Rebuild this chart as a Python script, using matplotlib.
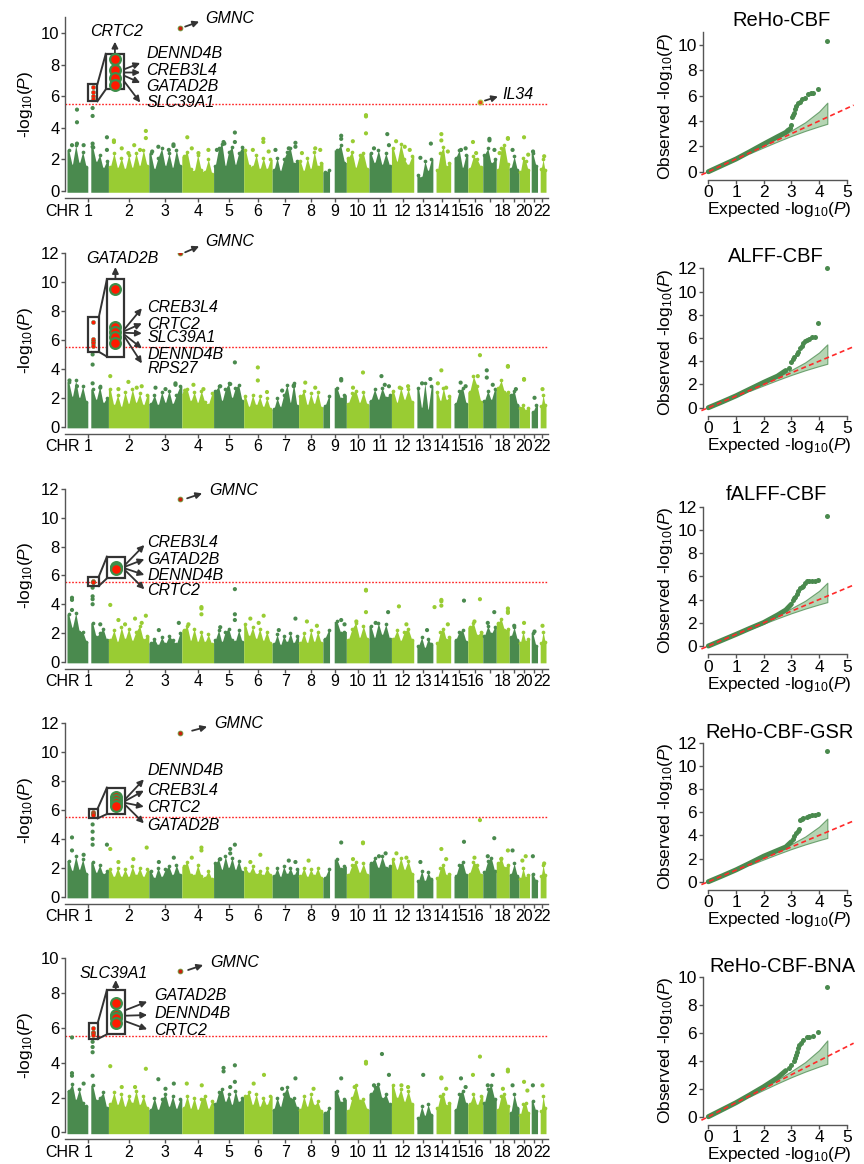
import numpy as np
import matplotlib
matplotlib.use("Agg")
import matplotlib.pyplot as plt
from matplotlib.transforms import offset_copy
from matplotlib.patches import Rectangle

plt.rcParams['font.family'] = ['Liberation Sans', 'DejaVu Sans']
plt.rcParams['mathtext.fontset'] = 'custom'
plt.rcParams['mathtext.rm'] = 'Liberation Sans'
plt.rcParams['mathtext.it'] = 'Liberation Sans:italic'
plt.rcParams['mathtext.bf'] = 'Liberation Sans:bold'

# ---------------------------------------------------------------- data
CHROM_LEN_MB = [249, 243, 198, 191, 181, 171, 159, 146, 141, 136, 135, 134,
                115, 107, 103, 90, 81, 78, 59, 63, 48, 51]
CHR_TICK_LABELS = ['1', '2', '3', '4', '5', '6', '7', '8', '9', '10', '11', '12',
                   '13', '14', '15', '16', '', '18', '', '20', '', '22']
# regions of each chromosome that carry SNPs (Mb)
CHROM_SEGMENTS = {1: [(0, 125), (143, 249)], 9: [(0, 40), (68, 141)],
                  13: [(19, 115)], 14: [(19, 107)], 15: [(20, 103)],
                  21: [(10, 48)], 22: [(16, 51)]}
PANEL_NAMES = ['ReHo-CBF', 'ALFF-CBF', 'fALFF-CBF', 'ReHo-CBF-GSR', 'ReHo-CBF-BNA']
THRESHOLD = 5.52

# jagged upper edge of the dense SNP cloud, per chromosome, left to right
BODY_1 = [[2.6, 1.6, 2.9, 1.7, 2.5, 1.5, 2.8, 1.8, 2.3, 1.4, 1.9],
          [1.5, 2.4, 1.4, 2.1, 1.3, 2.3, 1.4, 2.4, 1.5, 2.6, 1.6],
          [2.4, 1.3, 2.1, 2.7, 1.5, 2.4, 1.4, 2.6, 1.6],
          [2.2, 2.5, 1.4, 1.2, 2.3, 1.3, 1.2, 2.0, 1.1],
          [1.6, 2.7, 3.0, 1.5, 2.5, 2.8, 1.6, 2.4, 2.8],
          [2.6, 1.6, 1.5, 2.3, 1.3, 2.1, 1.3, 2.0],
          [1.3, 2.1, 1.2, 2.0, 2.5, 2.7, 1.7, 1.9],
          [1.9, 1.2, 2.1, 1.3, 2.5, 1.5, 1.8],
          [1.2, 1.3, 2.6, 2.9, 1.8],
          [2.1, 2.5, 1.4, 2.3, 2.4, 1.4],
          [2.4, 1.7, 2.6, 1.6, 2.4, 1.6],
          [2.7, 1.8, 3.0, 2.0, 1.6, 2.2],
          [1.0, 0.8, 1.9, 1.2, 2.0],
          [1.3, 2.4, 2.8, 1.5, 1.8],
          [2.1, 2.6, 1.4, 2.3],
          [1.4, 2.2, 2.0, 1.5],
          [2.3, 2.7, 1.7, 2.0],
          [1.3, 2.7, 2.9, 1.7],
          [1.4, 2.2, 1.3],
          [1.2, 2.1, 1.9, 1.3],
          [2.4, 1.6],
          [1.4, 2.0, 1.3]]
BODY_2 = [[3.1, 2.0, 3.2, 1.9, 2.8, 1.7, 2.6, 1.8, 2.8, 1.6, 2.0],
          [2.6, 1.4, 2.2, 1.3, 2.4, 1.5, 2.6, 1.6, 2.3, 1.4, 2.2],
          [1.6, 2.2, 1.4, 2.4, 1.6, 2.5, 1.5, 2.2, 2.8],
          [2.3, 2.6, 1.7, 2.4, 1.6, 2.5, 1.7, 1.5, 2.3],
          [2.5, 2.8, 1.7, 2.6, 3.0, 1.9, 2.7, 2.9, 1.8],
          [2.1, 1.3, 2.2, 1.4, 2.1, 1.3, 2.0, 1.2],
          [1.2, 2.0, 1.3, 2.2, 2.9, 1.6, 3.0, 1.4],
          [2.1, 2.5, 1.4, 2.3, 1.5, 2.4, 1.3],
          [1.4, 2.1, 2.7, 1.9, 2.2],
          [1.6, 2.3, 2.5, 1.6, 2.4, 1.5],
          [1.8, 2.6, 1.8, 2.7, 2.0, 2.2],
          [2.5, 1.6, 2.7, 1.8, 2.6, 1.7],
          [2.7, 1.2, 3.0, 1.1, 2.8],
          [2.4, 1.7, 2.7, 1.8, 2.1],
          [1.6, 2.5, 2.7, 1.6],
          [2.4, 3.5, 2.8, 1.7],
          [1.8, 2.5, 1.8, 2.6],
          [2.7, 3.2, 2.4, 2.4],
          [2.2, 2.5, 1.5],
          [1.3, 1.5, 1.1, 1.3],
          [1.0, 1.5],
          [1.4, 2.2, 1.5]]
BODY_3 = [[3.3, 2.3, 3.4, 2.1, 2.1, 1.4, 2.7, 1.7, 2.0, 2.3, 1.5],
          [1.5, 2.2, 1.3, 2.4, 1.5, 2.3, 1.4, 2.1, 2.5, 1.5, 1.8],
          [1.3, 1.6, 1.1, 1.7, 1.2, 1.8, 1.5, 1.2, 2.0],
          [2.2, 2.5, 1.4, 2.3, 1.3, 2.1, 1.3, 1.9, 1.2],
          [1.5, 2.2, 1.3, 2.1, 2.3, 1.5, 1.4, 2.2, 1.4],
          [2.6, 1.7, 2.4, 1.5, 2.3, 1.4, 2.1, 1.3],
          [1.2, 1.9, 1.1, 1.8, 1.3, 2.0, 1.2, 1.8],
          [1.3, 2.0, 1.2, 2.2, 1.3, 2.1, 1.3],
          [1.6, 2.2, 2.8, 2.0, 2.1],
          [1.5, 2.3, 2.7, 1.6, 2.5, 1.6],
          [2.5, 1.6, 2.7, 1.8, 2.6, 1.6],
          [1.6, 2.2, 1.4, 2.1, 2.3, 1.5],
          [1.1, 1.7, 0.9, 1.6, 1.2],
          [1.3, 2.1, 2.3, 1.5, 1.7],
          [1.5, 2.1, 2.2, 1.4],
          [2.4, 2.7, 1.8, 2.1],
          [1.8, 2.5, 1.9, 2.4],
          [2.7, 3.0, 2.2, 2.3],
          [1.7, 2.4, 1.5],
          [1.3, 2.1, 1.4, 1.6],
          [2.0, 1.1],
          [1.3, 2.1, 1.4]]
BODY_4 = [[2.5, 1.7, 2.8, 1.8, 2.6, 1.6, 2.4, 1.6, 2.2, 1.5, 1.8],
          [1.9, 1.3, 2.0, 1.3, 1.9, 1.3, 2.1, 1.4, 2.0, 1.3, 1.9],
          [1.8, 1.2, 2.0, 1.3, 1.9, 2.1, 1.4, 2.2, 1.5],
          [2.1, 2.4, 1.5, 1.4, 2.2, 1.4, 1.3, 1.8, 1.2],
          [2.3, 2.6, 1.8, 2.8, 1.9, 2.7, 1.8, 2.5, 1.7],
          [2.0, 1.6, 2.1, 1.5, 1.8, 1.4, 2.0, 1.5],
          [1.4, 2.0, 1.3, 2.1, 1.5, 2.0, 1.4, 1.9],
          [1.4, 2.0, 1.3, 1.9, 1.4, 2.0, 1.3],
          [1.3, 1.9, 2.6, 1.9, 2.1],
          [1.5, 2.2, 2.4, 1.6, 2.3, 1.5],
          [2.3, 2.7, 1.9, 2.8, 2.0, 2.1],
          [2.6, 1.8, 2.7, 1.8, 2.5, 1.6],
          [1.1, 1.8, 1.0, 1.7, 1.2],
          [1.3, 2.0, 2.2, 1.4, 1.6],
          [1.4, 2.2, 2.4, 1.5],
          [1.6, 2.4, 2.2, 1.5],
          [1.7, 2.5, 2.7, 1.8],
          [2.3, 2.7, 2.0, 2.2],
          [1.5, 2.3, 1.4],
          [1.2, 2.0, 1.3, 1.5],
          [1.6, 1.1],
          [1.4, 2.2, 1.5]]
BODY_5 = [[2.4, 2.8, 1.8, 2.5, 1.7, 1.5, 2.7, 1.8, 2.0, 2.3, 1.4],
          [1.6, 2.3, 1.5, 2.2, 1.4, 2.1, 1.6, 2.4, 1.5, 2.1, 1.4],
          [1.3, 2.0, 1.2, 1.9, 2.2, 1.4, 2.1, 1.3, 1.9],
          [1.4, 2.1, 1.3, 2.0, 1.2, 1.9, 2.1, 1.3, 1.8],
          [1.6, 2.3, 2.5, 1.7, 2.2, 1.5, 2.4, 1.7, 2.0],
          [2.1, 2.3, 1.5, 2.2, 1.4, 2.0, 1.5, 2.1],
          [1.3, 2.0, 1.4, 2.2, 2.6, 1.9, 2.0, 1.4],
          [1.3, 2.1, 1.4, 2.2, 1.5, 1.8, 1.2],
          [1.1, 1.4, 2.4, 1.7, 1.9],
          [1.2, 2.0, 2.7, 1.8, 1.9, 1.3],
          [2.2, 2.6, 2.8, 1.9, 2.2, 1.6],
          [2.7, 1.9, 2.5, 1.7, 2.4, 1.6],
          [0.8, 1.5, 0.9, 1.6, 1.0],
          [1.4, 2.1, 2.2, 1.5, 1.7],
          [1.3, 2.2, 2.4, 1.6],
          [1.6, 2.2, 1.5, 2.1],
          [1.7, 2.5, 2.7, 1.9],
          [1.3, 2.1, 2.2, 1.5],
          [1.1, 2.2, 1.4],
          [1.0, 1.6, 1.7, 1.1],
          [1.8, 1.2],
          [1.2, 2.1, 1.4]]

# sparse SNPs above the cloud: (chromosome, position Mb, -log10 P)
SPARSE_1 = [(1, 60, 5.15), (1, 60, 4.35), (1, 60, 3.0), (1, 30, 2.9), (1, 154, 5.25), (1, 154, 4.75),
            (1, 154, 3.0), (1, 154, 2.8), (1, 240, 3.4), (1, 240, 2.6), (2, 33, 3.2), (2, 33, 3.1),
            (2, 155, 2.9), (2, 225, 3.8), (2, 225, 3.35), (2, 120, 2.4), (3, 57, 2.8), (3, 148, 2.95),
            (3, 148, 2.85), (4, 33, 3.4), (4, 160, 2.6), (5, 60, 3.1), (5, 65, 3.0), (5, 128, 3.7),
            (5, 128, 3.1), (6, 55, 2.6), (6, 118, 3.3), (6, 118, 3.1), (7, 140, 3.05), (7, 140, 2.8),
            (8, 100, 2.7), (9, 110, 3.5), (9, 110, 3.3), (10, 39, 3.15), (10, 118, 4.8), (10, 118, 4.72),
            (10, 118, 3.65), (11, 110, 3.6), (11, 120, 2.9), (12, 28, 3.15), (12, 80, 2.8), (13, 103, 3.0),
            (14, 51, 3.6), (14, 51, 3.2), (15, 62, 2.6), (16, 31, 3.1), (17, 40, 3.3), (17, 40, 3.2),
            (18, 70, 3.35), (18, 70, 3.3), (19, 20, 2.6), (20, 30, 3.4), (21, 21, 2.5),
            (1, 100, 2.9), (2, 80, 2.7), (2, 190, 2.6), (3, 20, 2.5), (3, 120, 2.6), (4, 60, 2.7),
            (4, 100, 2.4), (5, 20, 2.6), (6, 150, 2.5), (7, 20, 2.6), (7, 100, 2.7), (8, 20, 2.4),
            (8, 130, 2.6), (10, 10, 2.6), (11, 30, 2.7), (12, 110, 2.6), (13, 40, 2.1), (14, 90, 2.5),
            (15, 90, 2.7), (16, 50, 2.4), (17, 70, 2.6), (18, 20, 2.4), (20, 55, 2.3), (22, 40, 2.2)]
SPARSE_2 = [(1, 15, 3.2), (1, 60, 2.8), (1, 154, 5.0), (1, 154, 4.3), (1, 154, 3.0), (2, 11, 3.5),
            (2, 120, 3.1), (2, 200, 2.8), (3, 40, 2.7), (3, 160, 3.0), (3, 160, 2.9), (4, 70, 2.9),
            (5, 128, 4.45), (5, 100, 2.95), (6, 85, 4.1), (6, 85, 3.2), (7, 130, 2.85), (7, 130, 2.8),
            (8, 40, 3.05), (9, 110, 3.3), (9, 110, 3.2), (10, 100, 3.75), (11, 75, 3.5), (11, 95, 2.9),
            (12, 100, 2.8), (13, 100, 3.3), (14, 51, 3.9), (14, 30, 3.0), (15, 60, 3.05), (16, 73, 4.95),
            (16, 60, 3.5), (17, 24, 3.9), (17, 24, 3.4), (18, 70, 4.2), (18, 70, 4.15), (20, 30, 3.3),
            (20, 30, 3.25), (22, 30, 2.6),
            (1, 200, 2.7), (2, 60, 2.6), (2, 170, 2.7), (3, 100, 2.6), (4, 130, 2.6), (4, 20, 2.5),
            (5, 40, 2.8), (6, 140, 2.4), (7, 60, 2.5), (8, 100, 2.7), (10, 40, 2.7), (11, 120, 2.8),
            (12, 50, 2.7), (13, 50, 3.0), (14, 80, 2.7), (15, 90, 2.8), (17, 60, 2.9), (19, 40, 2.6),
            (21, 30, 2.0)]
SPARSE_3 = [(1, 30, 4.45), (1, 30, 4.3), (1, 30, 3.6), (1, 154, 5.15), (1, 154, 4.55), (1, 154, 4.35),
            (1, 154, 4.0), (2, 11, 3.95), (2, 60, 2.9), (2, 160, 3.0), (2, 225, 3.2), (3, 180, 2.7),
            (4, 118, 3.8), (4, 118, 3.7), (4, 118, 3.3), (5, 128, 5.05), (5, 128, 3.3), (5, 128, 2.9),
            (6, 40, 3.0), (6, 120, 3.2), (7, 140, 3.0), (8, 50, 2.8), (9, 110, 2.9), (10, 118, 5.0),
            (10, 118, 4.95), (10, 118, 3.45), (11, 115, 3.45), (12, 45, 3.85), (14, 10, 3.8),
            (14, 51, 4.3), (14, 51, 4.2), (14, 51, 3.9), (15, 80, 4.25), (16, 73, 4.35), (17, 69, 3.45),
            (18, 70, 3.7), (18, 70, 3.5), (18, 70, 3.4), (20, 30, 2.7), (22, 30, 2.5),
            (1, 200, 2.6), (2, 100, 2.6), (2, 200, 2.7), (3, 60, 2.2), (4, 40, 2.6), (5, 40, 2.4),
            (6, 90, 2.7), (7, 40, 2.2), (8, 110, 2.5), (9, 130, 2.6), (10, 60, 2.8), (11, 40, 2.7),
            (12, 90, 2.6), (13, 80, 2.2), (14, 90, 2.6), (16, 40, 2.8), (17, 30, 2.7), (19, 30, 2.5),
            (21, 30, 2.1)]
SPARSE_4 = [(1, 30, 4.1), (1, 30, 3.2), (1, 154, 5.0), (1, 154, 4.5), (1, 154, 4.0), (1, 154, 3.6),
            (1, 240, 3.6), (2, 11, 3.3), (2, 230, 3.4), (3, 150, 2.7), (4, 118, 3.4), (4, 118, 3.2),
            (5, 100, 3.3), (5, 100, 3.0), (5, 128, 3.6), (6, 100, 2.9), (9, 110, 3.75), (10, 100, 3.75),
            (10, 100, 3.7), (11, 100, 3.0), (12, 30, 3.0), (14, 51, 3.3), (15, 80, 3.8), (16, 73, 5.3),
            (17, 69, 4.05), (18, 70, 3.2), (19, 20, 3.2), (20, 40, 2.8), (21, 20, 2.8),
            (1, 100, 2.9), (2, 60, 2.4), (2, 150, 2.6), (3, 60, 2.4), (4, 60, 2.7), (5, 40, 2.6),
            (6, 40, 2.4), (7, 100, 2.5), (7, 140, 2.4), (8, 60, 2.5), (10, 40, 2.6), (11, 60, 2.8),
            (12, 90, 2.7), (13, 40, 2.4), (14, 80, 2.6), (16, 40, 2.7), (17, 30, 2.8), (18, 30, 2.6),
            (20, 20, 2.5), (22, 40, 2.3)]
SPARSE_5 = [(1, 30, 5.45), (1, 30, 3.4), (1, 30, 3.25), (1, 154, 5.2), (1, 154, 4.9), (1, 154, 4.6),
            (1, 154, 3.25), (2, 11, 3.8), (2, 225, 3.65), (3, 57, 3.05), (3, 150, 2.8), (4, 30, 2.8),
            (5, 60, 3.7), (5, 60, 3.5), (5, 128, 3.85), (5, 128, 2.9), (6, 122, 3.3), (7, 140, 3.1),
            (9, 110, 3.1), (10, 118, 4.05), (10, 118, 3.95), (11, 78, 4.5), (11, 120, 3.3), (12, 60, 2.7),
            (13, 57, 3.3), (14, 51, 3.15), (14, 51, 3.1), (15, 62, 3.1), (16, 31, 3.3), (16, 73, 4.35),
            (17, 60, 3.3), (18, 70, 3.6), (18, 70, 3.5), (19, 20, 2.7), (20, 30, 2.9), (21, 20, 2.7),
            (22, 30, 2.7),
            (1, 100, 2.8), (2, 80, 2.6), (2, 160, 2.6), (3, 100, 2.5), (4, 120, 2.7), (5, 100, 2.6),
            (6, 60, 2.8), (7, 60, 2.5), (8, 90, 2.5), (10, 50, 2.6), (11, 30, 2.7), (12, 100, 2.6),
            (14, 80, 2.5), (15, 90, 2.6), (17, 30, 2.7), (18, 40, 2.5), (20, 50, 2.4)]

# genome-wide significant SNPs at 1q21.3 (chr1 ~154 Mb)
LEAD_CHR, LEAD_MB = 1, 154
LEAD_1 = [6.6, 6.28, 6.02, 5.8]
LEAD_2 = [7.27, 6.1, 5.95, 5.8, 5.6]
LEAD_3 = [5.62, 5.58, 5.55]
LEAD_4 = [5.85, 5.77, 5.7, 5.62]
LEAD_5 = [6.0, 5.75, 5.7, 5.6]
# GMNC lead SNP on chr3
GMNC_CHR, GMNC_MB = 3, 188
GMNC_P = [10.34, 12.0, 11.3, 11.35, 9.27]
# IL34 (panel 1 only)
IL34_CHR, IL34_MB, IL34_P = 16, 73, 5.66

# QQ plots: dense part and tail (expected, observed)
QQ_EXP_MAIN = [[0, 0.5, 1.0, 1.5, 2.0, 2.5, 2.8, 2.9],
               [0, 0.5, 1.0, 1.5, 2.0, 2.5, 2.8],
               [0, 0.5, 1.0, 1.5, 2.0, 2.5, 2.8, 3.0],
               [0, 0.5, 1.0, 1.5, 2.0, 2.5, 2.8, 3.0],
               [0, 0.5, 1.0, 1.5, 2.0, 2.5, 2.8]]
QQ_OBS_MAIN = [[0, 0.5, 1.0, 1.58, 2.18, 2.76, 3.1, 3.3],
               [0, 0.5, 1.02, 1.6, 2.18, 2.72, 3.2],
               [0, 0.5, 1.0, 1.52, 2.02, 2.67, 3.1, 3.6],
               [0, 0.5, 1.02, 1.6, 2.2, 2.7, 3.0, 3.45],
               [0, 0.5, 1.0, 1.56, 2.14, 2.78, 3.29]]
QQ_EXP_TAIL = [[2.95, 3.0, 3.03, 3.05, 3.08, 3.12, 3.18, 3.25, 3.3, 3.4, 3.5, 3.6, 3.7, 3.8, 3.95, 4.28],
               [2.9, 3.0, 3.05, 3.1, 3.2, 3.25, 3.3, 3.38, 3.43, 3.5, 3.55, 3.65, 3.73, 3.86, 3.98, 4.3],
               [3.05, 3.1, 3.13, 3.2, 3.25, 3.3, 3.37, 3.43, 3.5, 3.55, 3.65, 3.73, 3.85, 3.98, 4.3],
               [3.05, 3.1, 3.17, 3.25, 3.29, 3.3, 3.37, 3.43, 3.55, 3.65, 3.73, 3.85, 3.98, 4.3],
               [2.9, 3.0, 3.08, 3.13, 3.16, 3.19, 3.25, 3.29, 3.35, 3.43, 3.55, 3.65, 3.8, 3.98, 4.3]]
QQ_OBS_TAIL = [[3.45, 3.7, 4.3, 4.5, 4.65, 4.95, 5.15, 5.4, 5.5, 5.7, 5.85, 6.1, 6.2, 6.2, 6.55, 10.35],
               [3.45, 3.97, 4.15, 4.4, 4.65, 4.83, 5.1, 5.35, 5.55, 5.7, 5.83, 5.95, 6.06, 6.1, 7.27, 12.0],
               [3.95, 4.15, 4.25, 4.5, 4.75, 4.97, 5.1, 5.17, 5.4, 5.63, 5.63, 5.63, 5.63, 5.65, 11.2],
               [3.7, 3.94, 4.17, 4.4, 4.52, 5.3, 5.4, 5.47, 5.6, 5.7, 5.75, 5.8, 5.84, 11.3],
               [3.45, 3.69, 4.0, 4.17, 4.4, 4.64, 4.9, 5.12, 5.3, 5.48, 5.67, 5.72, 5.76, 6.07, 9.28]]
BAND_EXP = [1.5, 2.0, 2.5, 3.0, 3.5, 4.0, 4.3]
BAND_LO = [1.45, 1.92, 2.38, 2.82, 3.22, 3.58, 3.78]
BAND_HI = [1.55, 2.1, 2.65, 3.25, 3.9, 4.75, 5.45]

BODIES = [BODY_1, BODY_2, BODY_3, BODY_4, BODY_5]
SPARSE = [SPARSE_1, SPARSE_2, SPARSE_3, SPARSE_4, SPARSE_5]
LEADS = [LEAD_1, LEAD_2, LEAD_3, LEAD_4, LEAD_5]

# ---------------------------------------------------------------- style / layout
W, H = 864, 1164
DARK = '#4A8A4E'
LIGHT = '#99CC33'
RED = '#FF1A00'
GREY = '#333333'
QQ_GREEN = '#4A8A4E'
GENE_FS = 11.5

# (y=0 px, px per unit, top value, x-axis line px, max tick)
MAN_LAYOUT = [(191.0, 15.8, 11, 198.0, 10),
              (426.7, 14.45, 12, 433.5, 12),
              (661.7, 14.37, 12, 668.5, 12),
              (896.7, 14.45, 12, 903.5, 12),
              (1132.3, 17.4, 10, 1139.0, 10)]
QQ_LAYOUT = [(171.7, 12.67, 11, 179.7, 10),
             (407.7, 11.62, 12, 415.7, 12),
             (646.0, 11.61, 12, 654.0, 12),
             (881.7, 11.58, 12, 889.7, 12),
             (1116.7, 14.0, 10, 1124.7, 10)]
QQ_TITLE_PX = [(781, 20), (776, 257), (776, 495), (780, 733), (782, 967)]

ANNOT = [
    dict(sbox=(126, 183, 5.68, 6.77), bbox=(233, 343, 6.43, 8.68), up=('CRTC2', 300, 10.1, 9.45),
         head_x=440, label_x=478,
         right=[('DENND4B', 8.72, 8.1, 7.7), ('CREB3L4', 7.64, 7.5, 7.5),
                ('GATAD2B', 6.6, 6.85, 7.3), ('SLC39A1', 5.6, 5.6, 6.95)],
         gm_label=(25, 9), gm_tail=(5, 1), gm_head=(19, 6)),
    dict(sbox=(126, 191, 5.19, 7.57), bbox=(240, 342, 4.85, 10.2), up=('GATAD2B', 331, 11.66, 11.05),
         head_x=450, label_x=482,
         right=[('CREB3L4', 8.26, 8.2, 6.7), ('CRTC2', 7.1, 7.15, 6.6), ('SLC39A1', 6.18, 6.46, 6.5),
                ('DENND4B', 5.03, 5.42, 6.4), ('RPS27', 4.0, 4.38, 6.3)],
         gm_label=(25, 11.5), gm_tail=(5, 1), gm_head=(19, 7)),
    dict(sbox=(126, 191, 5.27, 5.92), bbox=(240, 346, 5.8, 7.31), up=None,
         head_x=465, label_x=482,
         right=[('CREB3L4', 8.29, 8.12, 6.7), ('GATAD2B', 7.13, 7.13, 6.6),
                ('DENND4B', 5.99, 6.04, 6.5), ('CRTC2', 4.92, 5.04, 6.4)],
         gm_label=(29, 9), gm_tail=(7, 1), gm_head=(22, 6)),
    dict(sbox=(130, 184, 5.42, 6.09), bbox=(240, 346, 5.72, 7.55), up=None,
         head_x=462, label_x=482,
         right=[('DENND4B', 8.72, 8.12, 6.7), ('CREB3L4', 7.38, 7.34, 6.6),
                ('CRTC2', 6.16, 6.23, 6.5), ('GATAD2B', 4.96, 5.08, 6.4)],
         gm_label=(34, 9), gm_tail=(12, 2), gm_head=(27, 6)),
    dict(sbox=(130, 184, 5.36, 6.26), bbox=(240, 346, 5.63, 8.18), up=('SLC39A1', 283, 9.14, 8.75),
         head_x=482, label_x=525,
         right=[('GATAD2B', 7.89, 7.51, 7.0), ('DENND4B', 6.8, 6.74, 6.7), ('CRTC2', 5.84, 5.92, 6.4)],
         gm_label=(30, 9), gm_tail=(8, 1), gm_head=(23, 6)),
]

fig = plt.figure(figsize=(W / 100, H / 100), dpi=100)
fig.patch.set_facecolor('white')


def add_axes_px(l, t, r, b):
    return fig.add_axes([l / W, 1 - b / H, (r - l) / W, (b - t) / H])


CHR_START = np.concatenate([[0], np.cumsum(CHROM_LEN_MB)[:-1]])
CHR_CENTER = CHR_START + np.array(CHROM_LEN_MB) / 2.0
PT = 0.72  # points per pixel


def gx(c, mb):
    return CHR_START[c - 1] + mb


def arrow(ax, xy_head, xy_tail):
    ax.annotate('', xy=xy_head, xytext=xy_tail,
                arrowprops=dict(arrowstyle='-|>', color=GREY, lw=1.3, mutation_scale=9,
                                shrinkA=0, shrinkB=0), annotation_clip=False)


def offset_arrow(ax, x, y, tail_px, head_px):
    th = offset_copy(ax.transData, fig=fig, x=head_px[0] * PT, y=head_px[1] * PT, units='points')
    tt = offset_copy(ax.transData, fig=fig, x=tail_px[0] * PT, y=tail_px[1] * PT, units='points')
    ax.annotate('', xy=(x, y), xycoords=th, xytext=(x, y), textcoords=tt,
                arrowprops=dict(arrowstyle='-|>', color=GREY, lw=1.3, mutation_scale=9,
                                shrinkA=0, shrinkB=0), annotation_clip=False)


def manhattan(k):
    y0, unit, ytop, axpx, tmax = MAN_LAYOUT[k]
    ax = add_axes_px(65, y0 - ytop * unit, 548, axpx)
    ax.set_xlim(-12, 2891)
    ax.set_ylim(-(axpx - y0) / unit, ytop)

    body = BODIES[k]
    for ci in range(22):
        col = DARK if ci % 2 == 0 else LIGHT
        segs = CHROM_SEGMENTS.get(ci + 1, [(0, CHROM_LEN_MB[ci])])
        vals = body[ci]
        n = len(vals)
        total = sum(b - a for a, b in segs)
        pos = []
        for i in range(n):
            d = (i + 0.5) / n * total
            for a, b in segs:
                if d <= b - a:
                    pos.append((a + d, vals[i], (a, b)))
                    break
                d -= (b - a)
        for a, b in segs:
            pts = [(p, v) for p, v, s in pos if s == (a, b)]
            if not pts:
                continue
            xs = [a] + [p for p, v in pts] + [b]
            ys = [pts[0][1]] + [v for p, v in pts] + [pts[-1][1]]
            xs = CHR_START[ci] + np.array(xs)
            ax.fill_between(xs, -0.08, ys, color=col, lw=0, zorder=2)
            ax.scatter(CHR_START[ci] + np.array([p for p, v in pts]), [v for p, v in pts],
                       s=7, color=col, lw=0, zorder=2)
    sp = SPARSE[k]
    sx = [gx(c, m) for c, m, v in sp]
    sy = [v for c, m, v in sp]
    sc = [DARK if c % 2 == 1 else LIGHT for c, m, v in sp]
    ax.scatter(sx, sy, s=9, c=sc, lw=0, zorder=3)

    ax.axhline(THRESHOLD, color='#FF2020', lw=1.0, ls=(0, (1.2, 1.2)), zorder=1)

    # lead SNPs chr1
    lead = LEADS[k]
    lx = gx(LEAD_CHR, LEAD_MB)
    ax.scatter([lx] * len(lead), lead, s=9, color=RED, edgecolors=DARK, lw=0.3, zorder=5)

    a = ANNOT[k]
    sx0, sx1, sy0, sy1 = a['sbox']
    bx0, bx1, by0, by1 = a['bbox']
    ax.add_patch(Rectangle((sx0, sy0), sx1 - sx0, sy1 - sy0, fill=False, ec=GREY, lw=1.6, zorder=6))
    ax.add_patch(Rectangle((bx0, by0), bx1 - bx0, by1 - by0, fc='white', ec=GREY, lw=1.6, zorder=6))
    ax.plot([sx1, bx0], [sy1, by1], color=GREY, lw=1.4, zorder=6)
    ax.plot([sx1, bx0], [sy0, by0], color=GREY, lw=1.4, zorder=6)
    bxc = (bx0 + bx1) / 2
    big_y = [by0 + (v - sy0) * (by1 - by0) / (sy1 - sy0) for v in lead]
    ax.scatter([bxc] * len(lead), big_y, s=60, color=RED, edgecolors='#3E8E4A', lw=1.6, zorder=7)

    if a['up'] is not None:
        name, ux, uy, uhead = a['up']
        arrow(ax, (bxc, uhead), (bxc, by1))
        ax.text(ux, uy, name, ha='center', va='center', style='italic', fontsize=GENE_FS, zorder=8)
    for name, ly, hy, ty in a['right']:
        arrow(ax, (a['head_x'], hy), (bx1, ty))
        ax.text(a['label_x'], ly, name, ha='left', va='center', style='italic', fontsize=GENE_FS, zorder=8)

    # GMNC
    gxp, gyp = gx(GMNC_CHR, GMNC_MB), GMNC_P[k]
    ax.scatter([gxp], [gyp], s=12, color='#C8200E', edgecolors='#6B9A3A', lw=0.6, zorder=7)
    offset_arrow(ax, gxp, gyp, a['gm_tail'], a['gm_head'])
    tl = offset_copy(ax.transData, fig=fig, x=a['gm_label'][0] * PT, y=a['gm_label'][1] * PT, units='points')
    ax.text(gxp, gyp, 'GMNC', transform=tl, ha='left', va='center', style='italic', fontsize=GENE_FS)

    if k == 0:
        ix, iy = gx(IL34_CHR, IL34_MB), IL34_P
        ax.scatter([ix], [iy], s=12, color='#E0501A', edgecolors='#B5C93A', lw=0.8, zorder=7)
        offset_arrow(ax, ix, iy, (5, 1), (18, 5))
        tl = offset_copy(ax.transData, fig=fig, x=22 * PT, y=7 * PT, units='points')
        ax.text(ix, iy, 'IL34', transform=tl, ha='left', va='center', style='italic', fontsize=GENE_FS)

    for s in ['top', 'right']:
        ax.spines[s].set_visible(False)
    ax.spines['left'].set_bounds(0, ytop)
    for s in ['left', 'bottom']:
        ax.spines[s].set_linewidth(1.0)
        ax.spines[s].set_color('#555555')
    ax.set_yticks(np.arange(0, tmax + 1, 2))
    ax.set_xticks(CHR_CENTER)
    ax.set_xticklabels(CHR_TICK_LABELS)
    ax.tick_params(axis='both', direction='out', length=3, width=1.0, color='#555555',
                   labelsize=12, pad=1)
    ax.tick_params(axis='x', labelsize=11.5)
    ax.set_ylabel(r'-log$_{10}$($P$)', fontsize=12.5)
    ylo = ax.get_ylim()[0]
    ax.yaxis.set_label_coords(-0.062, (ytop / 2 - ylo) / (ytop - ylo))
    ax.text(CHR_CENTER[0], 0, 'CHR',
            transform=offset_copy(ax.get_xaxis_transform(), fig=fig, x=-8 * PT, y=-4.3, units='points'),
            ha='right', va='top', fontsize=11.5)
    return ax


def qq(k):
    y0, unit, ytop, axpx, tmax = QQ_LAYOUT[k]
    ax = add_axes_px(702.8, y0 - ytop * unit, 855, axpx)
    ax.set_xlim(-0.2, 5.3)
    ax.set_ylim(-(axpx - y0) / unit, ytop)
    ax.fill_between(BAND_EXP, BAND_LO, BAND_HI, facecolor='#9DC89A', edgecolor='#4A8A4E',
                    lw=0.8, alpha=0.75, zorder=1)
    ax.plot([-0.25, 5.25], [-0.25, 5.25], color='#FF2A2A', lw=1.2, ls=(0, (3, 2)),
            clip_on=False, zorder=3)
    ax.plot(QQ_EXP_MAIN[k], QQ_OBS_MAIN[k], color=QQ_GREEN, lw=3.6, solid_capstyle='round', zorder=2)
    ax.scatter(QQ_EXP_TAIL[k], QQ_OBS_TAIL[k], s=13, color=QQ_GREEN, lw=0, zorder=4, clip_on=False)
    for s in ['top', 'right']:
        ax.spines[s].set_visible(False)
    ax.spines['left'].set_bounds(0, ytop)
    ax.spines['bottom'].set_bounds(0, 5)
    for s in ['left', 'bottom']:
        ax.spines[s].set_linewidth(1.0)
        ax.spines[s].set_color('#555555')
    ax.set_xticks(range(0, 6))
    ax.set_yticks(np.arange(0, tmax + 1, 2))
    ax.tick_params(axis='both', direction='out', length=3, width=1.0, color='#555555',
                   labelsize=12.5, pad=1)
    ax.set_xlabel(r'Expected -log$_{10}$($P$)', fontsize=12.5, labelpad=0)
    ax.set_ylabel(r'Observed -log$_{10}$($P$)', fontsize=12.5, labelpad=2)
    tx, ty = QQ_TITLE_PX[k]
    fig.text(tx / W, 1 - ty / H, PANEL_NAMES[k], ha='center', va='center', fontsize=14.5)
    return ax


for k in range(5):
    manhattan(k)
    qq(k)

fig.savefig('out.png', dpi=100, facecolor='white')
